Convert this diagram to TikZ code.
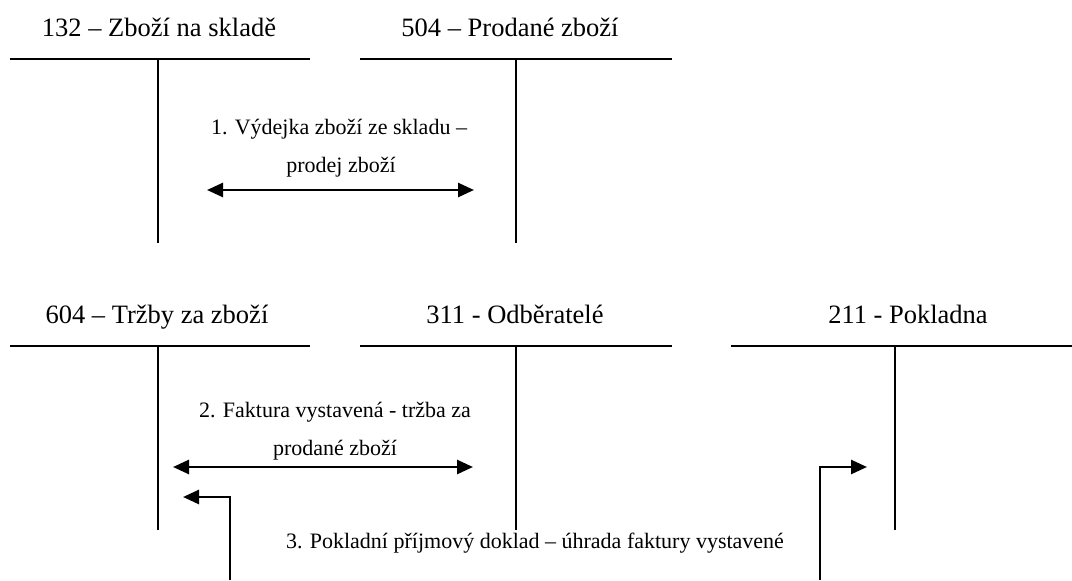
\documentclass[tikz,border=0pt]{standalone}
\usepackage{fontspec}
\setmainfont{Liberation Serif}
\usetikzlibrary{arrows.meta}
\tikzset{
    tline/.style={line width=2.2pt},
    title/.style={anchor=base, inner sep=0pt, font=\fontsize{26.5}{30}\selectfont},
    note/.style={anchor=base, inner sep=0pt, font=\fontsize{22}{26}\selectfont},
    flow/.style={line width=2.6pt, -{Triangle[length=16pt, width=14pt]}},
    twoway/.style={line width=2.6pt, {Triangle[length=16pt, width=14pt]}-{Triangle[length=16pt, width=14pt]}},
}

\begin{document}
\begin{tikzpicture}[x=1pt, y=-1pt]
\useasboundingbox (0,0) rectangle (1072,581);

% Row 1: 132 and 504
\node[title] (t132) at (159,36) {132 – Zboží na skladě};
\node[title] (t504) at (510,36) {504 – Prodané zboží};
\coordinate (a132l) at (10,59);  \coordinate (a132r) at (310,59);
\coordinate (a132t) at (158,59); \coordinate (a132b) at (158,243);
\coordinate (a504l) at (360,59); \coordinate (a504r) at (672,59);
\coordinate (a504t) at (516,59); \coordinate (a504b) at (516,243);
\draw[tline] (a132l) -- (a132r);
\draw[tline] (a132t) -- (a132b);
\draw[tline] (a504l) -- (a504r);
\draw[tline] (a504t) -- (a504b);

% Row 2: 604, 311 and 211
\node[title] (t604) at (157,323) {604 – Tržby za zboží};
\node[title] (t311) at (515,323) {311 - Odběratelé};
\node[title] (t211) at (908,323) {211 - Pokladna};
\coordinate (a604l) at (10,346);  \coordinate (a604r) at (310,346);
\coordinate (a604t) at (158,346); \coordinate (a604b) at (158,530);
\coordinate (a311l) at (360,346); \coordinate (a311r) at (672,346);
\coordinate (a311t) at (516,346); \coordinate (a311b) at (516,530);
\coordinate (a211l) at (731,346); \coordinate (a211r) at (1072,346);
\coordinate (a211t) at (895,346); \coordinate (a211b) at (895,530);
\draw[tline] (a604l) -- (a604r);
\draw[tline] (a604t) -- (a604b);
\draw[tline] (a311l) -- (a311r);
\draw[tline] (a311t) -- (a311b);
\draw[tline] (a211l) -- (a211r);
\draw[tline] (a211t) -- (a211b);

% 1. issue of goods
\node[note] (n1a) at (339,134) {1. Výdejka zboží ze skladu –};
\node[note] (n1b) at (341,172) {prodej zboží};
\coordinate (s1) at (207,190); \coordinate (e1) at (474,190);
\draw[twoway] (s1) -- (e1);

% 2. invoice issued
\node[note] (n2a) at (335,417) {2. Faktura vystavená - tržba za};
\node[note] (n2b) at (335,455) {prodané zboží};
\coordinate (s2) at (173,467); \coordinate (e2) at (473,467);
\draw[twoway] (s2) -- (e2);

% 3. cash receipt
\node[note] (n3) at (535,548) {3. Pokladní příjmový doklad – úhrada faktury vystavené};
\coordinate (s3l) at (230,580); \coordinate (e3l) at (183,497);
\coordinate (s3r) at (820,580); \coordinate (e3r) at (867,467);
\draw[flow] (s3l) |- (e3l);
\draw[flow] (s3r) |- (e3r);

\end{tikzpicture}
\end{document}
